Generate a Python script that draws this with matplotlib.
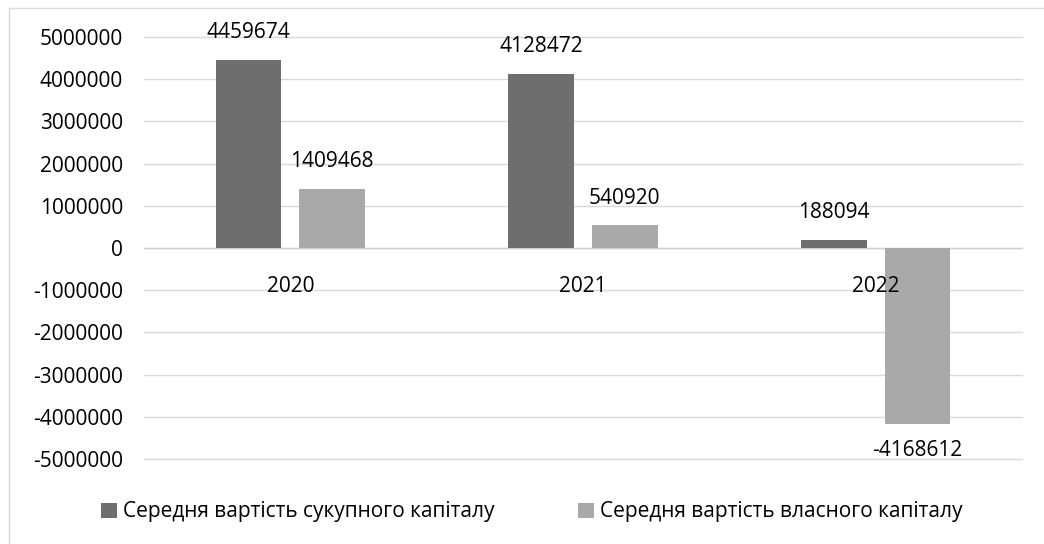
import matplotlib.pyplot as plt
from matplotlib.lines import Line2D
from matplotlib.patches import Patch
import numpy as np

years = ["2020", "2021", "2022"]
total_capital = [4459674, 4128472, 188094]
equity_capital = [1409468, 540920, -4168612]
series_names = ["Середня вартість сукупного капіталу", "Середня вартість власного капіталу"]
y_ticks = list(range(-5000000, 5000001, 1000000))

dark = "#6e6e6e"
light = "#a9a9a9"
grid = "#d9d9d9"
FS = 15

plt.rcParams["font.family"] = ["Open Sans", "DejaVu Sans"]

W, H = 1044, 544
fig = plt.figure(figsize=(W / 100, H / 100), dpi=100)
ax = fig.add_axes([144 / W, 1 - 459 / H, (1022 - 144) / W, (459 - 37) / H])

# Chart frame: only the top and left edges fall inside the canvas
fig.add_artist(Line2D([9 / W, 1], [1 - 8 / H, 1 - 8 / H], transform=fig.transFigure, color="#d9d9d9", lw=1))
fig.add_artist(Line2D([9 / W, 9 / W], [0, 1 - 8 / H], transform=fig.transFigure, color="#d9d9d9", lw=1))

x = np.arange(len(years))
w = 0.225
off = 0.143
b1 = ax.bar(x - off, total_capital, w, color=dark, zorder=3)
b2 = ax.bar(x + off, equity_capital, w, color=light, zorder=3)

for bars, vals in ((b1, total_capital), (b2, equity_capital)):
    for r, v in zip(bars, vals):
        dy = 19.5 if v >= 0 else -19.5
        ax.annotate(f"{v}", (r.get_x() + r.get_width() / 2, v), xytext=(0, dy),
                    textcoords="offset points", ha="center", va="center", fontsize=FS, color="#000000")

ax.set_xlim(-0.5, 2.5)
ax.set_ylim(-5000000, 5000000)
ax.set_yticks(y_ticks)
ax.set_yticklabels([str(t) for t in y_ticks], fontsize=FS)
ax.tick_params(axis="y", length=0, pad=15)
ax.set_xticks([])
ax.grid(axis="y", color=grid, lw=1, zorder=0)
for gl in ax.get_ygridlines():
    gl.set_clip_on(False)
for s in ax.spines.values():
    s.set_visible(False)
ax.axhline(0, color="#d0d0d0", lw=1, zorder=2)

# Category labels sit just below the zero line
for xi, yr in zip(x, years):
    ax.annotate(yr, (xi, 0), xytext=(0, -27.5), textcoords="offset points",
                ha="center", va="center", fontsize=FS)

handles = [Patch(facecolor=dark, label=series_names[0]), Patch(facecolor=light, label=series_names[1])]
fig.legend(handles=handles, loc="center", bbox_to_anchor=(532 / W, 1 - 512 / H), ncol=2,
           frameon=False, fontsize=FS, handlelength=0.75, handleheight=0.75, handletextpad=0.3,
           columnspacing=4.0, borderpad=0)

fig.savefig("out.png", dpi=100)
